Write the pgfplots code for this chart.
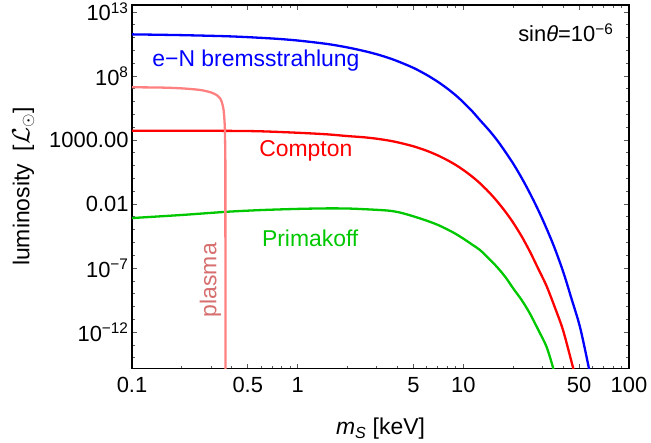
\documentclass[border=0pt]{standalone}
\usepackage{pgfplots}
\pgfplotsset{compat=1.18}
\usepackage{fontspec}
\setmainfont{Liberation Sans}
\definecolor{myblue}{RGB}{0,0,255}
\definecolor{myred}{RGB}{255,0,0}
\definecolor{mygreen}{RGB}{0,200,0}
\definecolor{plasmaline}{RGB}{255,128,128}
\definecolor{plasmatext}{RGB}{214,110,110}
\begin{document}
\begin{tikzpicture}
\useasboundingbox (0,0) rectangle (651bp,443bp);
\begin{axis}[
  at={(132bp,74.5bp)}, anchor=south west,
  scale only axis, width=497bp, height=363.5bp,
  xmode=log, ymode=log,
  xmin=0.1, xmax=100, ymin=1.45e-15, ymax=3.5e13,
  xtick={0.1,0.5,1,5,10,50,100},
  xticklabels={0.1,0.5,1,5,10,50,100},
  minor xtick={0.2,0.3,0.4,0.6,0.7,0.8,0.9,2,3,4,6,7,8,9,20,30,40,60,70,80,90},
  ytick={1e-12,1e-7,1e-2,1e3,1e8,1e13},
  yticklabels={10\textsuperscript{−12},10\textsuperscript{−7},0.01,1000.00,10\textsuperscript{8},10\textsuperscript{13}},
  minor ytick={1e-14,1e-13,1e-11,1e-10,1e-9,1e-8,1e-6,1e-5,1e-4,1e-3,1e-1,1,10,100,1e4,1e5,1e6,1e7,1e9,1e10,1e11,1e12},
  tick align=inside,
  major tick length=5bp, minor tick length=3bp,
  every tick/.style={line width=0.8bp, color=black!65},
  axis line style={line width=1.2bp, black},
  tick label style={font=\fontsize{22}{24}\selectfont},
  xticklabel style={yshift=-5bp},
  xlabel={\textit{m}\textsubscript{\textit{S}} [keV]},
  ylabel={luminosity~~[$\mathcal{L}_{\odot}$]},
  label style={font=\fontsize{23}{25}\selectfont},
  xlabel style={yshift=-19bp},
  ylabel style={yshift=8bp},
  clip=true,
  every axis plot/.append style={line width=2.3bp, line join=round},
]
% e-N bremsstrahlung
\addplot[myblue, no markers, smooth] coordinates {
(0.1,1.78e11) (0.2,1.55e11) (0.4,1.23e11) (0.7,8.5e10) (1.0,5.9e10)
(1.5,3.2e10) (2.0,1.7e10) (2.5,9.1e9) (3.0,5.0e9) (3.5,2.7e9) (4.0,1.45e9)
(5.0,4.3e8) (6.0,1.23e8) (7.0,3.6e7) (8.0,1.05e7) (9.0,3.1e6) (10,8.9e5)
(11.3,1.8e5) (12.6,3.6e4) (14.5,4.7e3) (16.5,560) (19.9,16) (23,0.66)
(26.5,0.020) (30.2,5.6e-4) (35,6.3e-6) (40.1,5e-8) (45,4e-10) (50.6,2.5e-12)
(56.8,2.6e-15) (58.5,3e-16)
};
% Compton
\addplot[myred, no markers, smooth] coordinates {
(0.1,5.4e3) (0.37,5.2e3) (0.6,4.8e3) (1.0,3.7e3) (1.5,2.8e3) (2.0,2.04e3)
(2.5,1.65e3) (3.0,1.27e3) (3.5,940) (4.0,670) (5.0,324) (6.0,147) (7.0,64)
(8.0,27) (9.0,11.3) (10,4.6) (11.3,1.4) (12.6,0.42) (14.2,0.092) (15.9,0.018)
(18,2.4e-3) (20,3.5e-4) (22.5,3.0e-5) (25.2,2.0e-6) (28.5,7.6e-8) (31.8,4e-9)
(36,6.3e-11) (40.1,1.26e-12) (46.1,1.45e-15) (47.5,3.5e-16)
};
% Primakoff
\addplot[mygreen, no markers, smooth] coordinates {
(0.1,8.1e-4) (0.2,1.41e-3) (0.373,2.5e-3) (0.6,3.4e-3) (1.0,4.2e-3) (1.5,4.6e-3)
(2.0,4.5e-3) (2.5,4.0e-3) (3.0,3.55e-3) (3.6,3.0e-3) (4.2,2.1e-3) (5.0,1.1e-3)
(6.0,5.1e-4) (7.0,2.4e-4) (8.0,1.05e-4) (9.0,4.7e-5) (10,2.0e-5) (11.3,6.9e-6)
(12.6,2.6e-6) (14.2,5.8e-7) (15.9,1.3e-7) (18,1.9e-8) (20,2.6e-9) (22.5,3.2e-10)
(25.2,2.9e-11) (28.5,1.3e-12) (31.8,7.1e-14) (34.9,1.45e-15) (36.5,1e-16)
};
% plasma
\addplot[plasmaline, no markers, smooth] coordinates {
(0.1,1.32e7) (0.15,1.25e7) (0.195,1.1e7) (0.24,9e6) (0.269,7.4e6) (0.3,5.2e6)
(0.324,3.3e6) (0.338,2e6) (0.3477,1e6) (0.355,3.5e5) (0.359,1.26e5)
(0.3625,2e4) (0.364,6e3) (0.3655,1e2) (0.3662,1) (0.3664,1e-16)
};
\node[myblue, font=\fontsize{23}{25}\selectfont] at (axis cs:0.56,1.5e9) {e−N bremsstrahlung};
\node[myred, font=\fontsize{23}{25}\selectfont] at (axis cs:1.12,138) {Compton};
\node[mygreen, font=\fontsize{23}{25}\selectfont] at (axis cs:1.19,2.2e-5) {Primakoff};
\node[plasmatext, rotate=90, font=\fontsize{23}{25}\selectfont] at (axis cs:0.298,1.15e-8) {plasma};
\node[black, anchor=east, font=\fontsize{22}{24}\selectfont] at (axis cs:84.5,2.3e11) {sin\textit{θ}=10\textsuperscript{−6}};
\end{axis}
\end{tikzpicture}
\end{document}
